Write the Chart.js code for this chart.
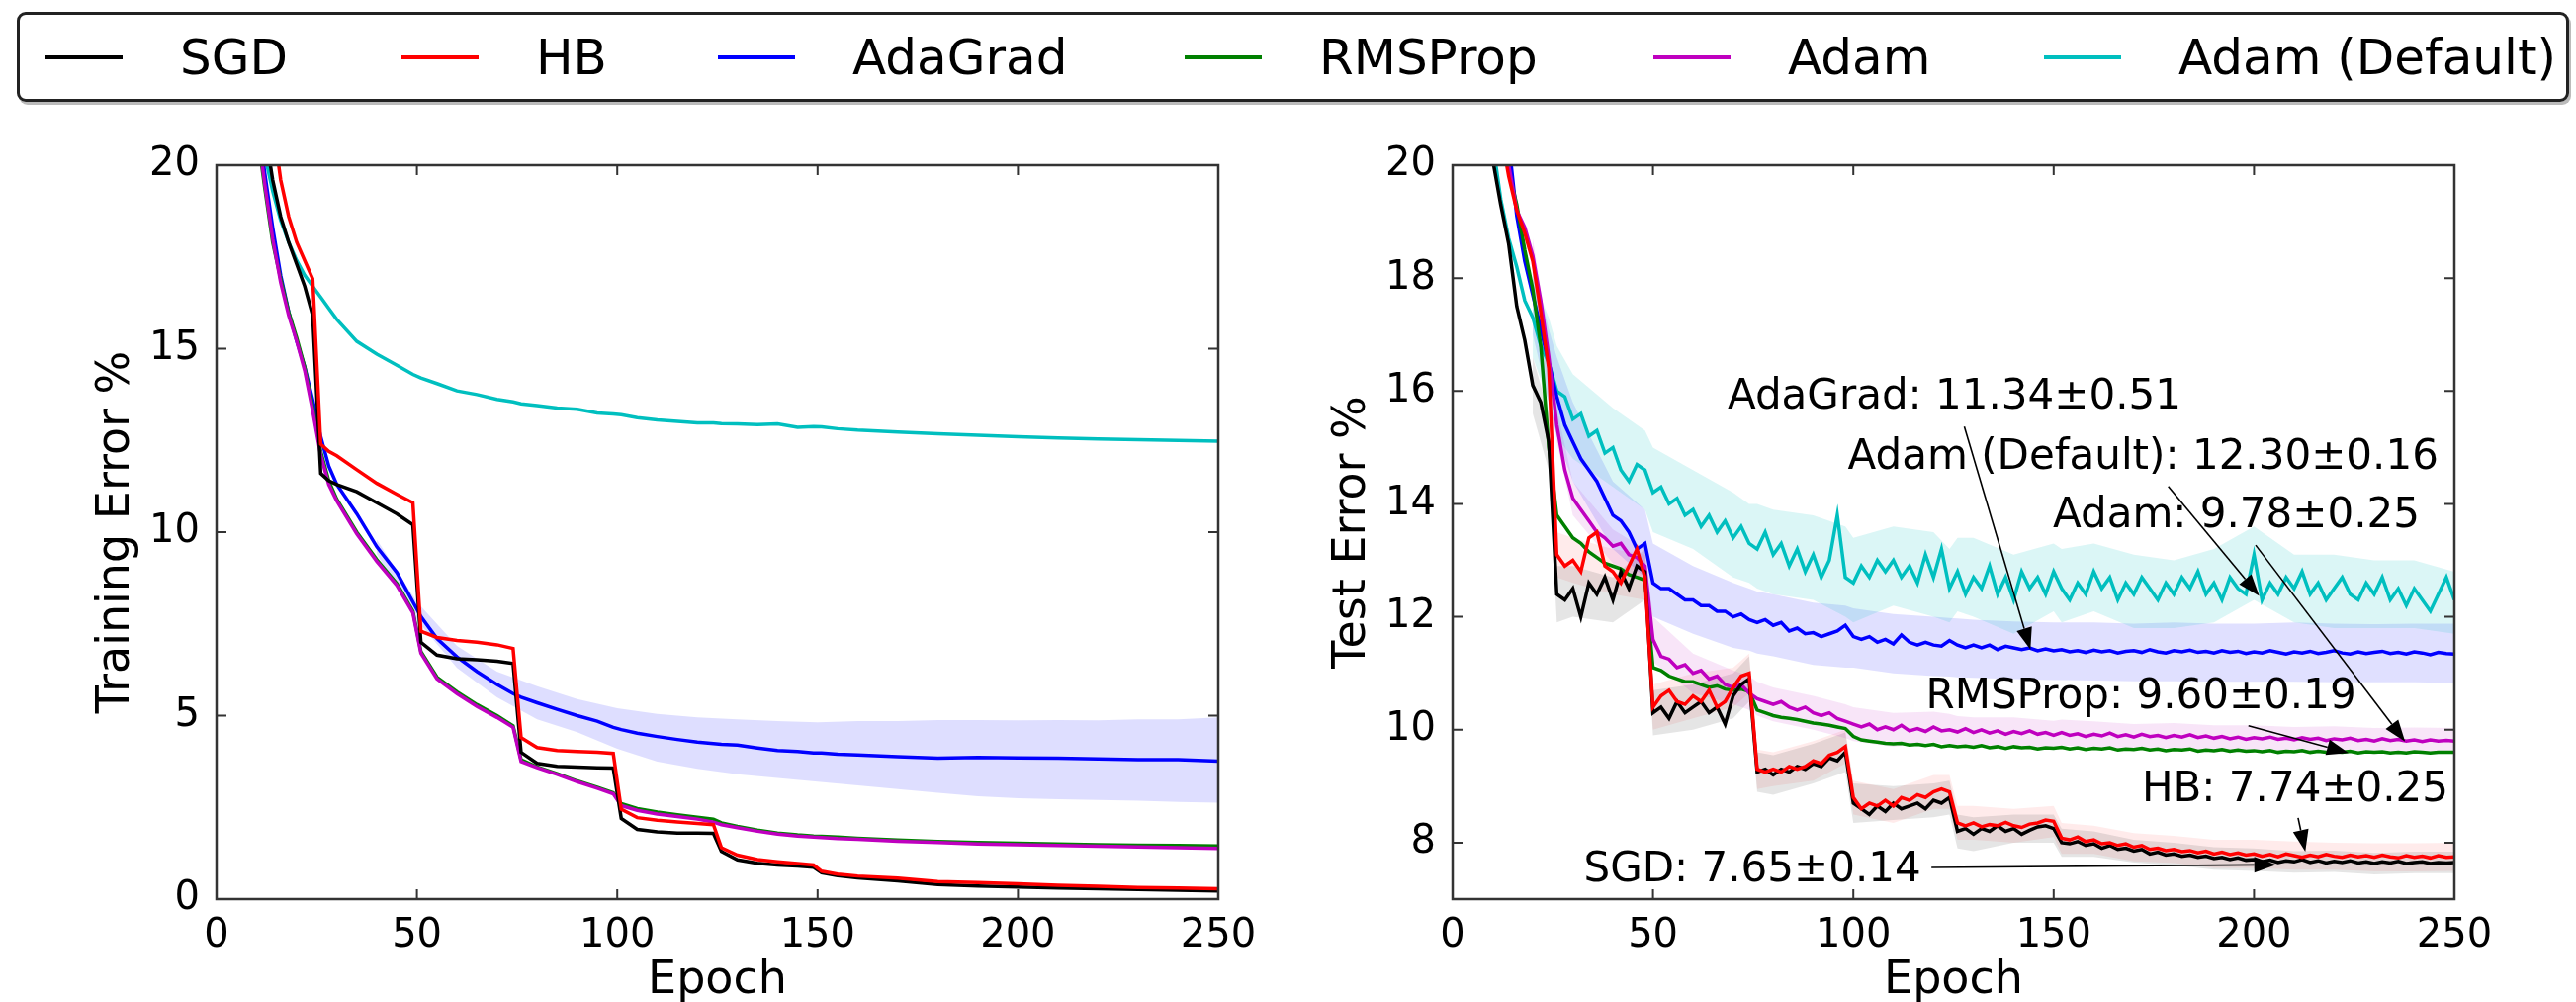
<!DOCTYPE html>
<html>
<head>
<meta charset="utf-8">
<script src="https://cdn.jsdelivr.net/npm/chart.js@4.4.1/dist/chart.umd.min.js"></script>
<style>
  body { margin: 0; background: #fff; }
  #wrap { position: relative; width: 2605px; height: 1013px; font-family: "DejaVu Sans"; }
  #legend {
    position: absolute; left: 17px; top: 12px; width: 2581px; height: 91px;
    box-sizing: border-box; border: 3px solid #222; border-radius: 9px;
    box-shadow: 2px 3px 0 #bbb; display: flex; align-items: center; padding-left: 26px;
  }
  .item { display: flex; align-items: center; font-size: 50px; color: #000; white-space: nowrap; flex: none; }
  .item:nth-child(1) { width: 360px; }
  .item:nth-child(2) { width: 320px; }
  .item:nth-child(3) { width: 472px; }
  .item:nth-child(4) { width: 474px; }
  .item:nth-child(5) { width: 395px; }
  .swatch { display: inline-block; width: 78px; height: 4px; margin-right: 58px; }
  canvas { position: absolute; top: 110px; }
</style>
</head>
<body>
<div id="wrap">
  <div id="legend"></div>
  <canvas id="trainChart" width="1300" height="903" style="left:0"></canvas>
  <canvas id="testChart" width="1305" height="903" style="left:1300px"></canvas>
</div>
<script>
// series
const seriesNames = ['SGD', 'HB', 'AdaGrad', 'RMSProp', 'Adam', 'Adam (Default)'];
const seriesColors = ['#000000', '#ff0000', '#0000ff', '#008000', '#bf00bf', '#00bfbf'];
const lineOrder = [2, 1, 5, 4, 3, 6];

// axis ticks
const epochTicks = [0, 50, 100, 150, 200, 250];
const trainTicks = [0, 5, 10, 15, 20];
const testTicks = [8, 10, 12, 14, 16, 18, 20];

// training error (%)
const trainEpochs = [10,12,14,16,18,20,22,24,26,28,30,35,40,45,49,51,55,60,65,70,74,76,80,85,90,95,99,101,105,110,
  115,120,124,126,130,135,140,145,149,151,155,160,170,180,190,200,210,220,230,240,250];
const trainSGD = [22.5,21.0,19.6,18.6,17.9,17.3,16.7,15.9,11.6,11.4, 11.3,11.1,10.8,10.5,10.2,7.0,6.65,6.55,6.52,6.48,
  6.42,4.0,3.7,3.62,3.6,3.58,3.57,2.2,1.9,1.83, 1.8,1.8,1.79,1.3,1.07,0.98,0.93,0.9,0.87,0.72,
  0.64,0.58,0.5,0.4,0.36,0.33,0.3,0.28,0.26,0.24, 0.22];
const trainHB = [24.5,22.8,21.2,19.6,18.6,17.9,17.4,16.9,12.4,12.2, 12.08,11.7,11.33,11.03,10.8,7.3,7.13,7.05,7.0,6.93,
  6.83,4.4,4.13,4.05,4.02,4.0,3.97,2.45,2.22,2.15, 2.1,2.06,2.03,1.4,1.2,1.08,1.02,0.97,0.93,0.76,
  0.68,0.63,0.57,0.48,0.45,0.42,0.38,0.35,0.32,0.3, 0.28];
const trainAdaGrad = [21.5,19.8,18.3,17.0,16.0,15.2,14.5,13.6,12.6,11.8, 11.3,10.5,9.6,8.9,8.1,7.7,7.1,6.6,6.2,5.85,
  5.6,5.5,5.35,5.17,5.0,4.85,4.68,4.62,4.52,4.43, 4.35,4.28,4.24,4.22,4.2,4.12,4.05,4.02,3.98,3.98,
  3.95,3.93,3.88,3.84,3.86,3.85,3.84,3.82,3.8,3.8, 3.76];
const trainRMSProp = [21.0,19.4,17.9,16.9,16.0,15.3,14.5,13.4,12.2,11.4, 10.9,10.0,9.25,8.6,7.85,6.75,6.05,5.65,5.3,5.0,
  4.72,3.8,3.6,3.42,3.22,3.05,2.9,2.6,2.47,2.37, 2.3,2.23,2.18,2.08,1.98,1.88,1.8,1.75,1.72,1.71,
  1.69,1.66,1.61,1.57,1.54,1.52,1.5,1.48,1.47,1.46, 1.45];
const trainAdam = [21.2,19.5,18.0,16.8,15.9,15.2,14.4,13.3,12.1,11.3, 10.85,9.95,9.2,8.55,7.8,6.7,6.0,5.6,5.25,4.95,
  4.68,3.75,3.58,3.4,3.2,3.02,2.87,2.55,2.42,2.32, 2.25,2.18,2.1,2.03,1.95,1.85,1.77,1.72,1.69,1.68,
  1.65,1.63,1.58,1.54,1.5,1.48,1.46,1.44,1.42,1.4, 1.38];
const trainAdamDefault = [21.5,20.3,19.3,18.5,17.9,17.4,17.0,16.7,16.4,16.1, 15.8,15.2,14.85,14.55,14.3,14.2,14.05,13.85,13.75,13.62,
  13.55,13.5,13.45,13.38,13.35,13.25,13.22,13.2,13.12,13.06, 13.02,12.98,12.98,12.96,12.95,12.93,12.95,12.86,12.88,12.87,
  12.82,12.78,12.73,12.68,12.64,12.6,12.57,12.54,12.52,12.5, 12.48];
const trainBandEpochs = [40,50,60,70,80,90,100,110,120,130,140,150,160,170,180,190,200,210,220,230,240,250];
const trainAdaGradHi = [9.8,8.1,6.9,6.2,5.8,5.45,5.2,5.05,4.95,4.9,4.85,4.82,4.85,4.85,4.88,4.88,4.87,4.88,4.87,4.9,4.9,4.95];
const trainAdaGradLo = [9.4,7.6,6.3,5.5,4.9,4.55,4.1,3.75,3.55,3.4,3.3,3.2,3.1,3.0,2.9,2.8,2.75,2.72,2.7,2.68,2.65,2.63];

// test error (%)
const testEpochs = [10,12,14,16,18,20,22,24,26,28, 30,32,34,36,38,40,42,44,46,48, 50,52,54,56,58,60,62,64,66,68,
  70,72,74,76,78,80,82,84,86,88, 90,92,94,96,98,100,102,104,106,108, 110,112,114,116,118,120,122,124,126,128,
  130,132,134,136,138,140,142,144,146,148, 150,152,154,156,158,160,162,164,166,168, 170,172,174,176,178,180,182,184,186,188,
  190,192,194,196,198,200,202,204,206,208, 210,212,214,216,218,220,222,224,226,228, 230,232,234,236,238,240,242,244,246,248, 250];
const testSGD = [20.1,19.3,18.6,17.5,16.9,16.1,15.8,15.1,12.4,12.3, 12.5,12.0,12.6,12.4,12.7,12.3,12.8,12.5,12.9,12.8,
  10.3,10.4,10.2,10.5,10.3,10.4,10.5,10.3,10.4,10.1, 10.6,10.8,10.9,9.25,9.3,9.2,9.3,9.25,9.35,9.3,
  9.4,9.35,9.5,9.45,9.6,8.7,8.6,8.5,8.65,8.55, 8.7,8.6,8.65,8.7,8.6,8.75,8.7,8.8,8.2,8.25,
  8.15,8.25,8.2,8.3,8.2,8.25,8.15,8.22,8.28,8.3, 8.25,8.0,7.98,8.02,7.95,7.98,7.9,7.95,7.88,7.9,
  7.85,7.88,7.8,7.83,7.78,7.8,7.76,7.78,7.74,7.76, 7.72,7.74,7.7,7.73,7.69,7.7,7.66,7.69,7.65,7.68,
  7.66,7.7,7.65,7.68,7.64,7.67,7.65,7.68,7.64,7.66, 7.63,7.66,7.64,7.67,7.63,7.65,7.66,7.63,7.65,7.64, 7.65];
const testHB = [21.5,20.6,19.8,19.2,18.8,18.3,17.4,16.4,13.1,12.9, 13.0,12.8,13.4,13.5,12.9,12.8,12.6,12.9,13.2,12.7,
  10.4,10.6,10.7,10.5,10.45,10.6,10.5,10.7,10.4,10.5, 10.75,10.95,11.0,9.3,9.25,9.3,9.25,9.35,9.3,9.35,
  9.45,9.4,9.55,9.6,9.7,8.8,8.6,8.7,8.65,8.75, 8.65,8.8,8.75,8.85,8.8,8.9,8.95,8.9,8.35,8.3,
  8.35,8.28,8.32,8.3,8.36,8.3,8.27,8.33,8.35,8.4, 8.38,8.08,8.05,8.1,8.02,8.05,7.98,8.0,7.95,7.98,
  7.92,7.95,7.88,7.9,7.86,7.88,7.84,7.86,7.82,7.85, 7.8,7.83,7.79,7.82,7.78,7.8,7.76,7.79,7.75,7.8,
  7.77,7.74,7.78,7.75,7.79,7.76,7.74,7.78,7.75,7.77, 7.74,7.78,7.75,7.73,7.77,7.74,7.76,7.73,7.77,7.74, 7.75];
const testAdaGrad = [22.6,21.6,20.4,19.1,18.3,17.7,17.1,16.5,15.9,15.4, 15.1,14.8,14.6,14.4,14.1,13.8,13.7,13.5,13.2,13.3,
  12.6,12.5,12.5,12.4,12.3,12.3,12.2,12.2,12.1,12.1, 12.0,12.05,11.95,11.9,11.95,11.85,11.9,11.75,11.8,11.7,
  11.72,11.65,11.7,11.75,11.85,11.65,11.6,11.65,11.55,11.6, 11.52,11.68,11.55,11.5,11.55,11.5,11.48,11.58,11.5,11.45,
  11.5,11.45,11.5,11.42,11.48,11.45,11.42,11.45,11.4,11.43, 11.4,11.42,11.38,11.4,11.37,11.41,11.38,11.4,11.36,11.39,
  11.4,11.37,11.42,11.38,11.36,11.4,11.38,11.41,11.37,11.39, 11.36,11.4,11.37,11.39,11.35,11.38,11.36,11.4,11.37,11.34,
  11.38,11.36,11.39,11.35,11.37,11.4,11.36,11.34,11.38,11.35, 11.37,11.39,11.35,11.37,11.34,11.38,11.36,11.33,11.37,11.35, 11.34];
const testRMSProp = [21.5,20.6,19.9,19.3,18.5,17.8,16.8,15.0,13.8,13.6, 13.4,13.3,13.15,13.05,12.95,12.9,12.85,12.75,12.7,12.65,
  11.1,11.05,10.95,10.9,10.85,10.85,10.8,10.75,10.78,10.72, 10.7,10.72,10.68,10.35,10.3,10.25,10.22,10.2,10.18,10.15,
  10.12,10.1,10.08,10.05,10.02,9.88,9.82,9.8,9.78,9.76, 9.75,9.76,9.73,9.74,9.72,9.74,9.7,9.72,9.7,9.71,
  9.69,9.72,9.68,9.7,9.67,9.7,9.68,9.69,9.66,9.68, 9.67,9.69,9.66,9.68,9.65,9.67,9.66,9.68,9.64,9.66,
  9.65,9.67,9.64,9.66,9.63,9.65,9.64,9.66,9.62,9.64, 9.63,9.65,9.62,9.64,9.62,9.63,9.61,9.63,9.6,9.62,
  9.61,9.63,9.6,9.62,9.6,9.61,9.6,9.62,9.59,9.61, 9.6,9.61,9.59,9.6,9.59,9.61,9.6,9.59,9.6,9.6, 9.6];
const testAdam = [21.8,20.9,20.0,19.2,18.9,18.4,17.6,16.6,15.4,14.6, 14.1,13.9,13.7,13.5,13.4,13.25,13.3,13.1,13.05,12.9,
  11.6,11.3,11.25,11.1,11.15,11.0,11.05,10.9,10.95,10.8, 10.75,10.8,10.65,10.55,10.5,10.45,10.5,10.4,10.35,10.4,
  10.3,10.25,10.3,10.2,10.15,10.1,10.05,10.1,10.0,10.05, 10.0,10.08,9.98,10.02,9.97,10.05,9.98,10.0,9.96,10.02,
  9.95,10.0,9.94,9.98,9.92,9.97,9.93,9.98,9.92,9.95, 9.9,9.95,9.9,9.93,9.88,9.92,9.89,9.94,9.88,9.91,
  9.87,9.92,9.88,9.9,9.86,9.9,9.87,9.91,9.86,9.89, 9.85,9.88,9.84,9.87,9.83,9.86,9.84,9.87,9.83,9.85,
  9.82,9.86,9.83,9.85,9.81,9.84,9.82,9.85,9.81,9.83, 9.8,9.84,9.81,9.83,9.8,9.82,9.79,9.82,9.8,9.81, 9.8];
const testAdamDefault = [20.4,19.4,18.7,18.2,17.6,17.3,16.8,16.5,16.0,15.9, 15.5,15.6,15.2,15.3,14.9,15.0,14.6,14.4,14.7,14.6,
  14.2,14.3,14.0,14.1,13.8,13.9,13.6,13.8,13.5,13.7, 13.4,13.6,13.3,13.2,13.5,13.1,13.3,12.9,13.2,12.8,
  13.1,12.7,13.0,13.8,12.7,12.6,12.9,12.7,13.0,12.8, 13.0,12.7,12.9,12.6,13.1,12.7,13.2,12.5,12.8,12.4,
  12.7,12.5,12.9,12.4,12.7,12.3,12.8,12.5,12.7,12.4, 12.8,12.5,12.3,12.6,12.4,12.8,12.5,12.7,12.3,12.6,
  12.4,12.7,12.5,12.3,12.6,12.4,12.7,12.5,12.8,12.4, 12.6,12.3,12.7,12.5,12.4,13.1,12.3,12.6,12.4,12.7,
  12.5,12.8,12.4,12.6,12.3,12.5,12.7,12.4,12.3,12.6, 12.4,12.7,12.3,12.5,12.2,12.5,12.3,12.1,12.4,12.7, 12.3];

// test error spread (shaded bands)
const testBandEpochs = [20,24,26,30,40,48,50,60,70,74, 76,80,90,98,100,110,120,124,126,130,
  140,150,152,160,170,180,190,200,210,220, 230,240,250];
const testAdamDefaultHi = [18.0,17.3,16.8,16.3,15.7,15.3,15.0,14.6,14.2,14.0, 14.0,13.9,13.8,13.6,13.4,13.6,13.5,13.2,13.4,13.4,
  13.1,13.3,13.2,13.3,13.1,13.0,13.2,13.6,13.1,13.1, 13.0,13.0,12.8];
const testAdamDefaultLo = [16.6,15.8,15.2,14.8,14.3,13.9,13.5,13.2,12.7,12.6, 12.5,12.4,12.3,12.0,11.9,12.2,12.0,11.9,12.1,12.0,
  11.7,12.1,11.9,12.1,11.8,11.8,11.9,12.3,11.9,11.8, 11.8,11.8,11.7];
const testAdaGradHi = [18.3,17.1,16.6,15.8,14.4,13.9,13.3,12.9,12.6,12.5, 12.45,12.4,12.25,12.2,12.15,12.05,12.0,11.98,11.97,11.95,
  11.92,11.9,11.9,11.9,11.88,11.9,11.88,11.88,11.9,11.88, 11.87,11.88,11.88];
const testAdaGradLo = [17.0,15.8,15.2,14.4,13.2,12.7,12.0,11.7,11.45,11.4, 11.35,11.3,11.15,11.1,11.1,11.0,10.95,10.94,10.93,10.92,
  10.9,10.88,10.88,10.87,10.86,10.86,10.85,10.85,10.85,10.84, 10.84,10.84,10.83];
const testAdamHi = [18.7,16.9,15.7,14.4,13.55,13.2,12.0,11.35,11.05,10.95, 10.85,10.75,10.6,10.45,10.4,10.3,10.32,10.28,10.24,10.22,
  10.22,10.16,10.18,10.15,10.1,10.12,10.08,10.08,10.05,10.06, 10.03,10.04,10.03];
const testAdamLo = [18.1,16.3,15.1,13.8,12.95,12.6,11.2,10.65,10.45,10.35, 10.25,10.15,10.0,9.85,9.8,9.7,9.78,9.72,9.68,9.68,
  9.72,9.64,9.72,9.69,9.64,9.68,9.62,9.64,9.6,9.62, 9.57,9.6,9.57];
const testHBHi = [18.6,16.8,13.5,13.4,13.2,13.1,10.8,11.0,11.1,11.35, 9.65,9.6,9.8,10.0,9.1,8.95,9.2,9.2,8.65,8.65,
  8.6,8.65,8.35,8.3,8.17,8.12,8.05,8.05,8.02,8.0, 7.99,7.99,8.0];
const testHBLo = [18.0,16.0,12.7,12.6,12.4,12.3,10.0,10.2,10.4,10.65, 8.95,9.0,9.1,9.4,8.5,8.35,8.6,8.6,8.05,8.05,
  8.0,8.1,7.8,7.8,7.67,7.64,7.55,7.55,7.52,7.52, 7.49,7.49,7.5];
const testSGDHi = [16.6,15.6,12.9,12.9,12.7,13.2,10.7,10.8,11.0,11.3, 9.6,9.55,9.75,9.95,9.05,9.0,9.05,9.1,8.5,8.45,
  8.5,8.5,8.25,8.2,8.05,8.0,7.92,7.9,7.85,7.86, 7.82,7.84,7.84];
const testSGDLo = [15.6,14.6,11.9,12.0,11.9,12.3,9.9,10.0,10.2,10.5, 8.9,8.85,9.05,9.25,8.35,8.4,8.45,8.5,7.9,7.85,
  8.0,8.0,7.75,7.75,7.65,7.6,7.52,7.5,7.47,7.48, 7.44,7.46,7.46];

// final-value notes on the test plot (data coordinates: epoch, error)
const noteLabels = ['AdaGrad: 11.34±0.51', 'Adam (Default): 12.30±0.16', 'Adam: 9.78±0.25',
  'RMSProp: 9.60±0.19', 'HB: 7.74±0.25', 'SGD: 7.65±0.14'];
const noteText = [[68.6, 15.88], [98.6, 14.82], [149.8, 13.77], [118.1, 10.57], [172, 8.92], [32.7, 7.51]];
const noteFrom = [[127.7, 15.37], [178.6, 14.31], [200.4, 13.27], [198.6, 10.07], [211, 8.44], [119.5, 7.56]];
const noteTo = [[144.2, 11.42], [201.3, 12.37], [237.7, 9.79], [223.6, 9.59], [212.8, 7.84], [205.5, 7.61]];

Chart.defaults.font.family = '"DejaVu Sans"';
Chart.defaults.color = '#000';

// legend
const legendEl = document.getElementById('legend');
seriesNames.forEach((name, i) => {
  const item = document.createElement('div');
  item.className = 'item';
  item.innerHTML = '<span class="swatch" style="background:' + seriesColors[i] + '"></span><span>' + name + '</span>';
  legendEl.appendChild(item);
});

function pts(xs, ys) {
  return xs.map((x, i) => ({ x: x, y: ys[i] }));
}

function lineSet(i, xs, ys) {
  return {
    label: seriesNames[i], data: pts(xs, ys), borderColor: seriesColors[i],
    borderWidth: 3.5, pointRadius: 0, fill: false, order: lineOrder[i]
  };
}

function bandSets(xs, hi, lo, color) {
  return [
    { data: pts(xs, hi), borderWidth: 0, pointRadius: 0, fill: false, order: 20 },
    { data: pts(xs, lo), borderWidth: 0, pointRadius: 0, fill: '-1', backgroundColor: color, order: 20 }
  ];
}

// box around the plot with matplotlib style inward ticks
const frame = {
  id: 'frame',
  afterDatasetsDraw(chart) {
    const { ctx, chartArea: a, scales: { x, y } } = chart;
    ctx.save();
    ctx.strokeStyle = '#333';
    ctx.lineWidth = 2.5;
    ctx.strokeRect(a.left, a.top, a.right - a.left, a.bottom - a.top);
    ctx.lineWidth = 2;
    ctx.beginPath();
    x.ticks.forEach(t => {
      const px = x.getPixelForValue(t.value);
      ctx.moveTo(px, a.bottom); ctx.lineTo(px, a.bottom - 10);
      ctx.moveTo(px, a.top); ctx.lineTo(px, a.top + 10);
    });
    y.ticks.forEach(t => {
      const py = y.getPixelForValue(t.value);
      ctx.moveTo(a.left, py); ctx.lineTo(a.left + 10, py);
      ctx.moveTo(a.right, py); ctx.lineTo(a.right - 10, py);
    });
    ctx.stroke();
    ctx.restore();
  }
};

const notes = {
  id: 'notes',
  afterDatasetsDraw(chart) {
    const { ctx, scales: { x, y } } = chart;
    ctx.save();
    ctx.font = '42px "DejaVu Sans"';
    ctx.fillStyle = '#000';
    ctx.textBaseline = 'middle';
    ctx.textAlign = 'left';
    noteLabels.forEach((txt, i) => {
      ctx.fillText(txt, x.getPixelForValue(noteText[i][0]), y.getPixelForValue(noteText[i][1]));
    });
    ctx.strokeStyle = '#000';
    ctx.lineWidth = 1.6;
    noteFrom.forEach((f, i) => {
      const x0 = x.getPixelForValue(f[0]), y0 = y.getPixelForValue(f[1]);
      const x1 = x.getPixelForValue(noteTo[i][0]), y1 = y.getPixelForValue(noteTo[i][1]);
      const ang = Math.atan2(y1 - y0, x1 - x0);
      const len = 22, half = 8;
      const bx = x1 - len * Math.cos(ang), by = y1 - len * Math.sin(ang);
      ctx.beginPath();
      ctx.moveTo(x0, y0);
      ctx.lineTo(bx, by);
      ctx.stroke();
      ctx.beginPath();
      ctx.moveTo(x1, y1);
      ctx.lineTo(bx + half * Math.sin(ang), by - half * Math.cos(ang));
      ctx.lineTo(bx - half * Math.sin(ang), by + half * Math.cos(ang));
      ctx.closePath();
      ctx.fill();
    });
    ctx.restore();
  }
};

function makeOptions(yMin, yMax, yTicks, yTitle, yWidth, yTitlePad, padRight) {
  return {
    responsive: false,
    animation: false,
    devicePixelRatio: 1,
    layout: { padding: { left: 0, right: padRight, top: 57, bottom: 0 } },
    plugins: { legend: { display: false }, tooltip: { enabled: false } },
    scales: {
      x: {
        type: 'linear', min: 0, max: 250,
        grid: { display: false }, border: { display: false },
        afterBuildTicks: s => { s.ticks = epochTicks.map(v => ({ value: v })); },
        afterFit: s => { s.height = 104; },
        ticks: { font: { size: 40 }, padding: 6, maxRotation: 0, autoSkip: false },
        title: { display: true, text: 'Epoch', font: { size: 46, lineHeight: 0.9 }, padding: { top: 0, bottom: 0 } }
      },
      y: {
        type: 'linear', min: yMin, max: yMax,
        grid: { display: false }, border: { display: false },
        afterBuildTicks: s => { s.ticks = yTicks.map(v => ({ value: v })); },
        afterFit: s => { s.width = yWidth; },
        ticks: { font: { size: 40 }, padding: 9, autoSkip: false },
        title: { display: true, text: yTitle, font: { size: 46 }, padding: { top: yTitlePad, bottom: 0 } }
      }
    }
  };
}

const trainChart = new Chart(document.getElementById('trainChart'), {
  type: 'line',
  data: {
    datasets: [
      ...bandSets(trainBandEpochs, trainAdaGradHi, trainAdaGradLo, 'rgba(0, 0, 255, 0.13)'),
      lineSet(0, trainEpochs, trainSGD),
      lineSet(1, trainEpochs, trainHB),
      lineSet(2, trainEpochs, trainAdaGrad),
      lineSet(3, trainEpochs, trainRMSProp),
      lineSet(4, trainEpochs, trainAdam),
      lineSet(5, trainEpochs, trainAdamDefault)
    ]
  },
  options: makeOptions(0, 20, trainTicks, 'Training Error %', 219, 90, 68),
  plugins: [frame]
});

const testChart = new Chart(document.getElementById('testChart'), {
  type: 'line',
  data: {
    datasets: [
      ...bandSets(testBandEpochs, testAdamDefaultHi, testAdamDefaultLo, 'rgba(0, 191, 191, 0.14)'),
      ...bandSets(testBandEpochs, testAdaGradHi, testAdaGradLo, 'rgba(0, 0, 255, 0.12)'),
      ...bandSets(testBandEpochs, testAdamHi, testAdamLo, 'rgba(191, 0, 191, 0.1)'),
      ...bandSets(testBandEpochs, testSGDHi, testSGDLo, 'rgba(0, 0, 0, 0.1)'),
      ...bandSets(testBandEpochs, testHBHi, testHBLo, 'rgba(255, 0, 0, 0.08)'),
      lineSet(0, testEpochs, testSGD),
      lineSet(1, testEpochs, testHB),
      lineSet(2, testEpochs, testAdaGrad),
      lineSet(3, testEpochs, testRMSProp),
      lineSet(4, testEpochs, testAdam),
      lineSet(5, testEpochs, testAdamDefault)
    ]
  },
  options: makeOptions(7, 20, testTicks, 'Test Error %', 169, 40, 123),
  plugins: [frame, notes]
});
</script>
</body>
</html>
